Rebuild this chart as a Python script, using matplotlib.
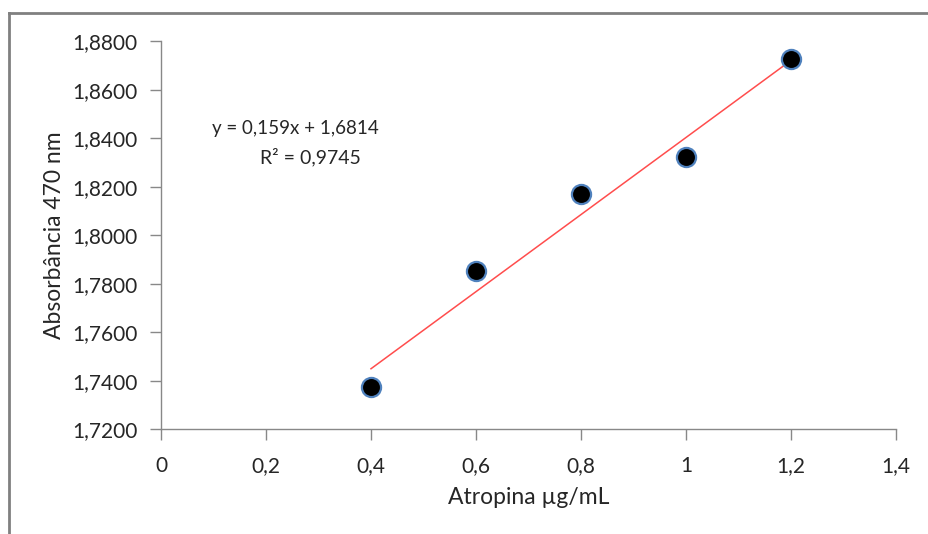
import matplotlib
matplotlib.use("Agg")
import matplotlib.pyplot as plt
from matplotlib.lines import Line2D

plt.rcParams["font.family"] = ["Lato", "DejaVu Sans"]

# calibration data
concentration = [0.4, 0.6, 0.8, 1.0, 1.2]
absorbance = [1.7374, 1.7853, 1.8170, 1.8323, 1.8727]

# linear fit shown on the chart
slope = 0.159
intercept = 1.6814
r_squared = 0.9745

x_ticks = [0, 0.2, 0.4, 0.6, 0.8, 1.0, 1.2, 1.4]
y_ticks = [1.72, 1.74, 1.76, 1.78, 1.80, 1.82, 1.84, 1.86, 1.88]

GRAY = "#888888"
TEXT = "#262626"


def comma(v, nd):
    return f"{v:.{nd}f}".replace(".", ",")


fig = plt.figure(figsize=(9.29, 5.34), dpi=100)
ax = fig.add_axes([0.1733, 0.196, 0.7912, 0.7263])

# trend line over the measured range
fit_x = [concentration[0], concentration[-1]]
fit_y = [slope * x + intercept for x in fit_x]
ax.plot(fit_x, fit_y, color="#ff4d4d", lw=1.1, zorder=2)

ax.scatter(concentration, absorbance, s=190, color="black",
           edgecolors="#4f81bd", linewidths=1.6, zorder=3)

ax.set_xlim(0, 1.4)
ax.set_ylim(1.72, 1.88)
ax.set_xticks(x_ticks)
ax.set_xticklabels(["0" if v == 0 else ("1" if v == 1 else comma(v, 1))
                    for v in x_ticks])
ax.set_yticks(y_ticks)
ax.set_yticklabels([comma(v, 4) for v in y_ticks])

for side in ("top", "right"):
    ax.spines[side].set_visible(False)
for side in ("left", "bottom"):
    ax.spines[side].set_color(GRAY)
    ax.spines[side].set_linewidth(1.0)
ax.tick_params(axis="both", direction="out", length=8, width=1.0,
               color=GRAY, labelcolor=TEXT, labelsize=15)
ax.tick_params(axis="x", pad=11)
ax.tick_params(axis="y", pad=9)

ax.set_xlabel("Atropina µg/mL", fontsize=16.5, color=TEXT, labelpad=8)
ax.set_ylabel("Absorbância 470 nm", fontsize=16.5, color=TEXT, labelpad=5)

ax.text(0.256, 1.8442, f"y = {comma(slope, 3)}x + {comma(intercept, 4)}",
        ha="center", va="center", fontsize=13.5, color=TEXT)
ax.text(0.285, 1.8323, f"R² = {comma(r_squared, 4)}",
        ha="center", va="center", fontsize=14, color=TEXT)

# chart area border
fig.add_artist(Line2D([9 / 929, 9 / 929], [0, 1 - 13 / 534],
                      transform=fig.transFigure, color="#808080", lw=2))
fig.add_artist(Line2D([9 / 929, 1], [1 - 13 / 534, 1 - 13 / 534],
                      transform=fig.transFigure, color="#808080", lw=2))

fig.savefig("out.png", dpi=100)
